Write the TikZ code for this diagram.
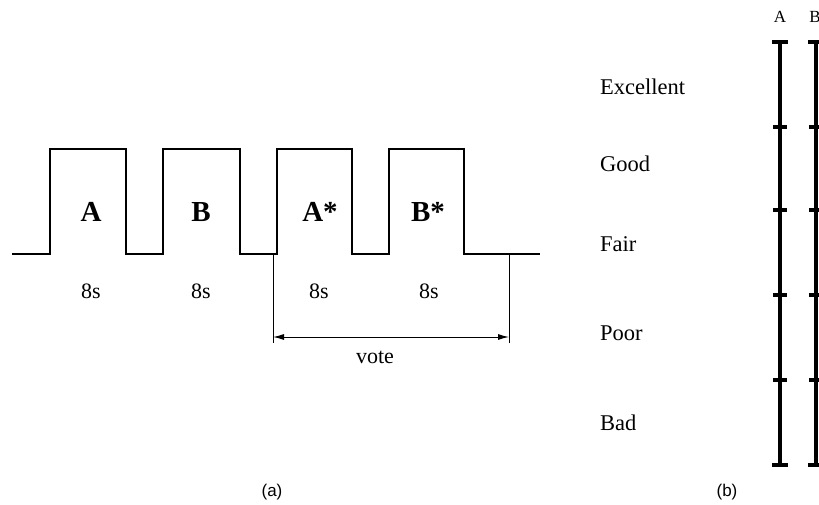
\documentclass[tikz,border=0pt]{standalone}
\usepackage{fontspec}
\setmainfont{Liberation Serif}
\newfontfamily\labsans{Liberation Sans}
\usetikzlibrary{arrows.meta}
\begin{document}
\begin{tikzpicture}[x=1pt,y=-1pt,
  wave/.style={line width=2pt,line join=miter},
  big/.style={font=\fontsize{29}{29}\selectfont\bfseries,inner sep=0pt},
  dur/.style={font=\fontsize{22}{22}\selectfont,inner sep=0pt},
  grade/.style={font=\fontsize{22.5}{22.5}\selectfont,inner sep=0pt,anchor=west},
  subcap/.style={font=\labsans\fontsize{17}{17}\selectfont,inner sep=0pt},
  scalelab/.style={font=\fontsize{17}{17}\selectfont,inner sep=0pt},
  bar/.style={line width=4pt},
  tickmark/.style={line width=4pt},
  thin/.style={line width=1pt}]
\useasboundingbox (0,0) rectangle (819,505);
\clip (0,0) rectangle (819,505);
% waveform
\draw[wave] (12,254) -- (50,254) -- (50,149) -- (126,149) -- (126,254)
  -- (163,254) -- (163,149) -- (240,149) -- (240,254)
  -- (277,254) -- (277,149) -- (352,149) -- (352,254)
  -- (389,254) -- (389,149) -- (464,149) -- (464,254) -- (540,254);
\node[big] (A) at (91,212) {A};
\node[big] (B) at (201,212) {B};
\node[big] (As) at (320,212) {A*};
\node[big] (Bs) at (428,212) {B*};
\node[dur] (dA) at (91,291) {8s};
\node[dur] (dB) at (201,291) {8s};
\node[dur] (dAs) at (319,291) {8s};
\node[dur] (dBs) at (429,291) {8s};
% vote bracket
\coordinate (vl1) at (273,254);
\coordinate (vl2) at (273,343);
\coordinate (vr1) at (509,255);
\coordinate (vr2) at (509,343);
\coordinate (al) at (273,337);
\coordinate (ar) at (509,337);
\draw[thin] (vl1) -- (vl2);
\draw[thin] (vr1) -- (vr2);
\draw[thin,{Latex[length=11pt,width=6pt]}-{Latex[length=11pt,width=6pt]}] (al) -- (ar);
\node[dur] (vote) at (375,357) {vote};
% grades
\node[grade] (ex) at (600,87) {Excellent};
\node[grade] (gd) at (600,164) {Good};
\node[grade] (fa) at (600,244) {Fair};
\node[grade] (po) at (600,333) {Poor};
\node[grade] (bd) at (600,423) {Bad};
% scale A
\node[scalelab] (lA) at (780,17) {A};
\node[scalelab] (lB) at (815,17) {B};
\draw[bar] (780,42) -- (780,465);
\foreach \y in {42,465} \draw[tickmark] (772,\y) -- (788,\y);
\foreach \y in {127,210,295,380} \draw[tickmark] (773,\y) -- (787,\y);
% scale B (cropped)
\draw[bar] (816,42) -- (816,465);
\foreach \y in {42,465} \draw[tickmark] (808,\y) -- (824,\y);
\foreach \y in {127,210,295,380} \draw[tickmark] (809,\y) -- (823,\y);
% captions
\node[subcap] (ca) at (272,492) {(a)};
\node[subcap] (cb) at (727,492) {(b)};
\end{tikzpicture}
\end{document}
